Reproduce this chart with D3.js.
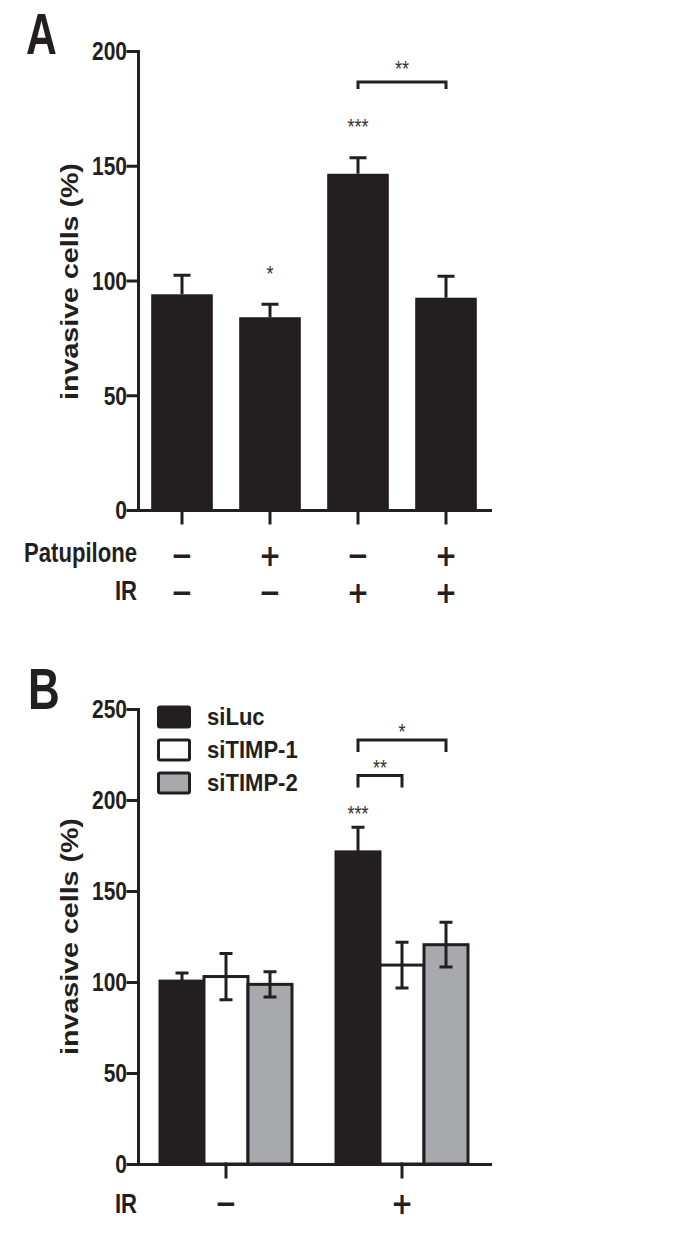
<!DOCTYPE html>
<html>
<head>
<meta charset="utf-8">
<script src="https://cdn.jsdelivr.net/npm/d3@7"></script>
<style>
    body { margin: 0; background: #fff; }
    text { font-family: "Liberation Sans", Arial, sans-serif; fill: #231f20; }
    text.sign { font-family: "DejaVu Sans", sans-serif; }
</style>
</head>
<body>
<script>
// panel A: patupilone / IR combinations
var patupilone = ["−", "+", "−", "+"]
  , irA = ["−", "−", "+", "+"]
  , meansA = [94, 84, 146.5, 92.5]
  , errA = [8.3, 5.7, 7, 9.4]
  , ticksA = [0, 50, 100, 150, 200]
  , starsA = [{ bar: 1, label: "*" }, { bar: 2, label: "***" }]
  , bracketsA = [{ from: 2, to: 3, level: 186.5, label: "**" }]
  ;

// panel B: siRNA knockdown with / without IR
var irB = ["−", "+"]
  , seriesB = ["siLuc", "siTIMP-1", "siTIMP-2"]
  , siLuc = [100.5, 171.5]
  , siLucErr = [4.5, 13.5]
  , siTimp1 = [103, 109.3]
  , siTimp1Err = [12.7, 12.6]
  , siTimp2 = [98.7, 120.5]
  , siTimp2Err = [7, 12.3]
  , ticksB = [0, 50, 100, 150, 200, 250]
  , starsB = [{ group: 1, series: 0, label: "***" }]
  , bracketsB = [
        { group: 1, from: 0, to: 1, level: 213.5, label: "**" },
        { group: 1, from: 0, to: 2, level: 233, label: "*" }
    ]
  ;

var ink = "#231f20"
  , colorsB = [ink, "#ffffff", "#a7a9ac"]
  , axisX = 138
  ;

var svg = d3.select("body").append("svg").attr("width", 685).attr("height", 1250);

function label (g, text, x, y, size, sx, anchor, weight) {
    return g.append("text")
        .attr("transform", "translate(" + x + "," + y + ") scale(" + sx + ",1)")
        .attr("text-anchor", anchor)
        .attr("font-size", size)
        .attr("font-weight", weight || "bold")
        .text(text);
}

// the +/− row markers
function sign (g, text, x, y) {
    return label(g, text, x, y, 31, 0.85, "middle").attr("class", "sign");
}

function styleAxis (g) {
    g.selectAll(".domain, .tick line")
        .attr("stroke", ink)
        .attr("stroke-width", 3)
        .attr("stroke-linecap", "square");
}

function yAxis (g, y, ticks) {
    var a = g.append("g")
        .attr("transform", "translate(" + axisX + ",0)")
        .call(d3.axisLeft(y).tickValues(ticks).tickSize(10).tickSizeOuter(0));
    a.selectAll(".tick text")
        .attr("x", null)
        .attr("dy", "0.35em")
        .attr("transform", "translate(-11,0) scale(0.84,1)")
        .attr("font-size", 25)
        .attr("font-weight", "bold")
        .attr("fill", ink);
    styleAxis(a);
}

function xAxis (g, x, y0) {
    var a = g.append("g")
        .attr("transform", "translate(0," + y0 + ")")
        .call(d3.axisBottom(x).tickSize(13).tickSizeOuter(0).tickFormat(""));
    styleAxis(a);
}

function yTitle (g, cy) {
    g.append("text")
        .attr("transform", "translate(78," + cy + ") rotate(-90) scale(1,0.82)")
        .attr("text-anchor", "middle")
        .attr("font-size", 28.6)
        .attr("font-weight", "bold")
        .text("invasive cells (%)");
}

function bracket (g, x1, x2, yTop, leg) {
    g.append("path")
        .attr("d", "M" + x1 + "," + (yTop + leg) + "V" + yTop + "H" + x2 + "V" + (yTop + leg))
        .attr("fill", "none")
        .attr("stroke", ink)
        .attr("stroke-width", 3);
}

/* ---------- panel A ---------- */
var gA = svg.append("g");

var xA = d3.scaleBand().domain(d3.range(meansA.length)).range([axisX, 490])
        .paddingInner(0.3).paddingOuter(0.15)
  , yA = d3.scaleLinear().domain([0, 200]).range([510, 51])
  ;

gA.selectAll("rect.bar").data(meansA).enter().append("rect")
    .attr("class", "bar")
    .attr("x", function (d, i) { return xA(i); })
    .attr("y", function (d) { return yA(d); })
    .attr("width", xA.bandwidth())
    .attr("height", function (d) { return yA(0) - yA(d); })
    .attr("fill", ink);

meansA.forEach(function (m, i) {
    var cx = xA(i) + xA.bandwidth() / 2
      , top = yA(m + errA[i])
      ;
    gA.append("path")
        .attr("d", "M" + cx + "," + yA(m) + "V" + top + "M" + (cx - 8.5) + "," + top + "H" + (cx + 8.5))
        .attr("stroke", ink)
        .attr("stroke-width", 3)
        .attr("fill", "none");
});

yAxis(gA, yA, ticksA);
xAxis(gA, xA, yA(0));
yTitle(gA, 281.5);

starsA.forEach(function (s) {
    var cx = xA(s.bar) + xA.bandwidth() / 2;
    label(gA, s.label, cx, yA(meansA[s.bar] + errA[s.bar]) - 36 + 12.5, 22, 0.82, "middle", "normal")
        .style("fill", "#333");
});

bracketsA.forEach(function (b) {
    var x1 = xA(b.from) + xA.bandwidth() / 2
      , x2 = xA(b.to) + xA.bandwidth() / 2
      ;
    bracket(gA, x1, x2, yA(b.level), 7);
    label(gA, b.label, (x1 + x2) / 2, yA(b.level) - 18 + 12.5, 22, 0.82, "middle", "normal")
        .style("fill", "#333");
});

label(gA, "A", 26, 54, 57, 0.75, "start");
label(gA, "Patupilone", 137, 562, 28, 0.79, "end");
label(gA, "IR", 137, 600, 28, 0.79, "end");

patupilone.forEach(function (s, i) {
    sign(gA, s, xA(i) + xA.bandwidth() / 2, 566);
});
irA.forEach(function (s, i) {
    sign(gA, s, xA(i) + xA.bandwidth() / 2, 603);
});

/* ---------- panel B ---------- */
var gB = svg.append("g");

var meansB = [siLuc, siTimp1, siTimp2]
  , errB = [siLucErr, siTimp1Err, siTimp2Err]
  ;

var x0 = d3.scaleBand().domain(d3.range(irB.length)).range([axisX, 490])
  , x1 = d3.scaleBand().domain(d3.range(seriesB.length)).range([22, 154])
  , yB = d3.scaleLinear().domain([0, 250]).range([1164, 709])
  ;

var cells = [];
irB.forEach(function (g, gi) {
    seriesB.forEach(function (s, si) {
        cells.push({ g: gi, s: si, v: meansB[si][gi], e: errB[si][gi] });
    });
});

gB.selectAll("rect.bar").data(cells).enter().append("rect")
    .attr("class", "bar")
    .attr("x", function (d) { return x0(d.g) + x1(d.s); })
    .attr("y", function (d) { return yB(d.v); })
    .attr("width", x1.bandwidth())
    .attr("height", function (d) { return yB(0) - yB(d.v); })
    .attr("fill", function (d) { return colorsB[d.s]; })
    .attr("stroke", ink)
    .attr("stroke-width", 3);

cells.forEach(function (d) {
    var cx = x0(d.g) + x1(d.s) + x1.bandwidth() / 2
      , hi = yB(d.v + d.e)
      , lo = yB(d.v - d.e)
      ;
    gB.append("path")
        .attr("d", "M" + cx + "," + lo + "V" + hi
            + "M" + (cx - 6.5) + "," + hi + "H" + (cx + 6.5)
            + "M" + (cx - 6.5) + "," + lo + "H" + (cx + 6.5))
        .attr("stroke", ink)
        .attr("stroke-width", 3)
        .attr("fill", "none");
});

yAxis(gB, yB, ticksB);
xAxis(gB, x0, yB(0));
yTitle(gB, 936.5);

function centerB (g, s) { return x0(g) + x1(s) + x1.bandwidth() / 2; }

starsB.forEach(function (s) {
    var v = meansB[s.series][s.group] + errB[s.series][s.group];
    label(gB, s.label, centerB(s.group, s.series), yB(v) - 19 + 12.5, 22, 0.82, "middle", "normal")
        .style("fill", "#333");
});

bracketsB.forEach(function (b) {
    var xa = centerB(b.group, b.from)
      , xb = centerB(b.group, b.to)
      ;
    bracket(gB, xa, xb, yB(b.level), 12);
    label(gB, b.label, (xa + xb) / 2, yB(b.level) - 13 + 12.5, 22, 0.82, "middle", "normal")
        .style("fill", "#333");
});

// legend
var legend = gB.append("g").attr("transform", "translate(158.5,707)");
seriesB.forEach(function (s, i) {
    legend.append("rect")
        .attr("x", 0)
        .attr("y", i * 33)
        .attr("width", 31)
        .attr("height", 20)
        .attr("rx", 1.5)
        .attr("fill", colorsB[i])
        .attr("stroke", ink)
        .attr("stroke-width", 3);
    label(legend, s, 48.5, i * 33 + 18, 24, 0.92, "start");
});

label(gB, "B", 28, 709, 57, 0.77, "start");
label(gB, "IR", 137, 1213, 28, 0.79, "end");
irB.forEach(function (s, i) {
    sign(gB, s, x0(i) + x0.bandwidth() / 2, 1214);
});
</script>
</body>
</html>
